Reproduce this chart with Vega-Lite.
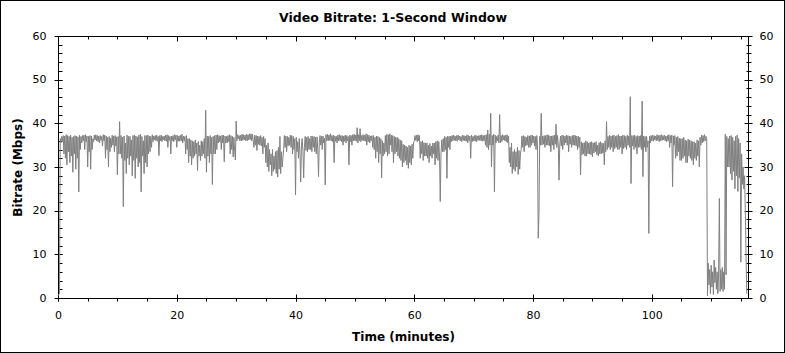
{
"$schema": "https://vega.github.io/schema/vega-lite/v6.json",
"width": 785, "height": 353,
"autosize": {"type": "none"},
"padding": 0,
"background": "white",
"config": {
  "view": {"stroke": "black", "strokeWidth": 2, "fill": "white"},
  "axis": {"grid": false, "domainColor": "black", "tickColor": "black", "labelColor": "black", "labelFont": "DejaVu Sans", "labelFontSize": 11, "titleFont": "DejaVu Sans", "titleFontSize": 12, "titleFontWeight": "bold", "titleColor": "black", "domainWidth": 1, "tickWidth": 1, "labelFlush": false, "labelOverlap": false, "labelBound": false}
},
"data": {"values": [
{"t":0,"v":0.5},{"t":0.125,"v":0.8},{"t":0.25,"v":1.0},{"t":0.375,"v":36.5},{"t":0.5,"v":35.5},{"t":0.625,"v":37.0},{"t":0.75,"v":36.0},{"t":0.875,"v":37.2},
{"t":1,"v":33.0},{"t":1.125,"v":37.1},{"t":1.25,"v":32.0},{"t":1.375,"v":37.4},{"t":1.5,"v":30.5},{"t":1.625,"v":37.2},{"t":1.75,"v":33.5},{"t":1.875,"v":37.0},
{"t":2,"v":31.0},{"t":2.125,"v":37.3},{"t":2.25,"v":32.5},{"t":2.375,"v":36.8},{"t":2.5,"v":28.8},{"t":2.625,"v":37.0},{"t":2.75,"v":33.0},{"t":2.875,"v":37.2},
{"t":3,"v":29.5},{"t":3.125,"v":37.1},{"t":3.25,"v":32.0},{"t":3.375,"v":36.9},{"t":3.5,"v":24.3},{"t":3.625,"v":37.3},{"t":3.75,"v":34.0},{"t":3.875,"v":37.0},
{"t":4,"v":35.5},{"t":4.125,"v":37.2},{"t":4.25,"v":36.0},{"t":4.375,"v":37.3},{"t":4.5,"v":34.0},{"t":4.625,"v":37.4},{"t":4.75,"v":35.8},{"t":4.875,"v":37.1},
{"t":5,"v":30.0},{"t":5.125,"v":37.0},{"t":5.25,"v":33.5},{"t":5.375,"v":37.2},{"t":5.5,"v":29.5},{"t":5.625,"v":37.1},{"t":5.75,"v":34.0},{"t":5.875,"v":36.5},
{"t":6,"v":35.8},{"t":6.125,"v":37.3},{"t":6.25,"v":36.2},{"t":6.375,"v":37.4},{"t":6.5,"v":36.0},{"t":6.625,"v":37.2},{"t":6.75,"v":35.8},{"t":6.875,"v":37.1},
{"t":7,"v":35.5},{"t":7.125,"v":37.2},{"t":7.25,"v":36.1},{"t":7.375,"v":37.0},{"t":7.5,"v":34.8},{"t":7.625,"v":37.4},{"t":7.75,"v":36.0},{"t":7.875,"v":37.3},
{"t":8,"v":32.0},{"t":8.125,"v":37.1},{"t":8.25,"v":34.0},{"t":8.375,"v":36.8},{"t":8.5,"v":30.0},{"t":8.625,"v":37.0},{"t":8.75,"v":33.5},{"t":8.875,"v":36.6},
{"t":9,"v":34.5},{"t":9.125,"v":37.3},{"t":9.25,"v":35.0},{"t":9.375,"v":37.1},{"t":9.5,"v":33.5},{"t":9.625,"v":37.2},{"t":9.75,"v":34.8},{"t":9.875,"v":36.9},
{"t":10,"v":28.2},{"t":10.125,"v":37.0},{"t":10.25,"v":33.0},{"t":10.375,"v":40.4},{"t":10.5,"v":33.0},{"t":10.625,"v":37.2},{"t":10.75,"v":32.0},{"t":10.875,"v":36.8},
{"t":11,"v":20.9},{"t":11.125,"v":37.1},{"t":11.25,"v":31.5},{"t":11.375,"v":35.5},{"t":11.5,"v":28.5},{"t":11.625,"v":37.3},{"t":11.75,"v":32.0},{"t":11.875,"v":37.0},
{"t":12,"v":30.5},{"t":12.125,"v":37.0},{"t":12.25,"v":32.5},{"t":12.375,"v":36.2},{"t":12.5,"v":28.0},{"t":12.625,"v":37.2},{"t":12.75,"v":31.5},{"t":12.875,"v":37.3},
{"t":13,"v":27.4},{"t":13.125,"v":37.1},{"t":13.25,"v":32.0},{"t":13.375,"v":36.9},{"t":13.5,"v":30.0},{"t":13.625,"v":37.3},{"t":13.75,"v":31.0},{"t":13.875,"v":37.5},
{"t":14,"v":24.3},{"t":14.125,"v":37.0},{"t":14.25,"v":32.5},{"t":14.375,"v":36.0},{"t":14.5,"v":28.5},{"t":14.625,"v":37.2},{"t":14.75,"v":31.0},{"t":14.875,"v":37.2},
{"t":15,"v":30.0},{"t":15.125,"v":37.3},{"t":15.25,"v":33.0},{"t":15.375,"v":37.1},{"t":15.5,"v":33.5},{"t":15.625,"v":37.0},{"t":15.75,"v":34.5},{"t":15.875,"v":37.4},
{"t":16,"v":35.8},{"t":16.125,"v":37.1},{"t":16.25,"v":36.2},{"t":16.375,"v":37.2},{"t":16.5,"v":36.0},{"t":16.625,"v":37.3},{"t":16.75,"v":35.9},{"t":16.875,"v":37.0},
{"t":17,"v":32.6},{"t":17.125,"v":37.2},{"t":17.25,"v":36.0},{"t":17.375,"v":37.3},{"t":17.5,"v":35.8},{"t":17.625,"v":37.0},{"t":17.75,"v":36.2},{"t":17.875,"v":37.1},
{"t":18,"v":36.0},{"t":18.125,"v":37.3},{"t":18.25,"v":35.9},{"t":18.375,"v":37.4},{"t":18.5,"v":34.5},{"t":18.625,"v":37.2},{"t":18.75,"v":36.1},{"t":18.875,"v":37.0},
{"t":19,"v":33.0},{"t":19.125,"v":37.1},{"t":19.25,"v":36.0},{"t":19.375,"v":37.2},{"t":19.5,"v":35.8},{"t":19.625,"v":37.4},{"t":19.75,"v":36.2},{"t":19.875,"v":37.3},
{"t":20,"v":34.5},{"t":20.125,"v":37.2},{"t":20.25,"v":35.9},{"t":20.375,"v":37.1},{"t":20.5,"v":35.9},{"t":20.625,"v":37.3},{"t":20.75,"v":36.0},{"t":20.875,"v":37.5},
{"t":21,"v":35.5},{"t":21.125,"v":37.1},{"t":21.25,"v":36.0},{"t":21.375,"v":37.0},{"t":21.5,"v":33.0},{"t":21.625,"v":37.2},{"t":21.75,"v":34.0},{"t":21.875,"v":36.5},
{"t":22,"v":31.0},{"t":22.125,"v":36.5},{"t":22.25,"v":32.5},{"t":22.375,"v":36.2},{"t":22.5,"v":30.5},{"t":22.625,"v":36.0},{"t":22.75,"v":32.0},{"t":22.875,"v":35.8},
{"t":23,"v":32.5},{"t":23.125,"v":36.2},{"t":23.25,"v":33.0},{"t":23.375,"v":35.5},{"t":23.5,"v":29.2},{"t":23.625,"v":35.8},{"t":23.75,"v":32.5},{"t":23.875,"v":35.0},
{"t":24,"v":31.5},{"t":24.125,"v":36.0},{"t":24.25,"v":32.5},{"t":24.375,"v":35.8},{"t":24.5,"v":33.0},{"t":24.625,"v":36.5},{"t":24.75,"v":32.0},{"t":24.875,"v":43.0},
{"t":25,"v":28.8},{"t":25.125,"v":37.1},{"t":25.25,"v":32.5},{"t":25.375,"v":37.0},{"t":25.5,"v":31.0},{"t":25.625,"v":37.2},{"t":25.75,"v":33.0},{"t":25.875,"v":36.8},
{"t":26,"v":26.0},{"t":26.125,"v":37.0},{"t":26.25,"v":33.0},{"t":26.375,"v":37.2},{"t":26.5,"v":33.0},{"t":26.625,"v":37.3},{"t":26.75,"v":34.0},{"t":26.875,"v":37.4},
{"t":27,"v":35.5},{"t":27.125,"v":37.2},{"t":27.25,"v":35.8},{"t":27.375,"v":37.1},{"t":27.5,"v":34.0},{"t":27.625,"v":37.3},{"t":27.75,"v":35.5},{"t":27.875,"v":37.3},
{"t":28,"v":31.2},{"t":28.125,"v":37.1},{"t":28.25,"v":35.5},{"t":28.375,"v":37.0},{"t":28.5,"v":35.5},{"t":28.625,"v":37.2},{"t":28.75,"v":35.8},{"t":28.875,"v":37.4},
{"t":29,"v":33.0},{"t":29.125,"v":37.2},{"t":29.25,"v":34.0},{"t":29.375,"v":37.0},{"t":29.5,"v":32.3},{"t":29.625,"v":36.8},{"t":29.75,"v":33.5},{"t":29.875,"v":31.6},
{"t":30,"v":40.5},{"t":30.125,"v":36.0},{"t":30.25,"v":37.4},{"t":30.375,"v":36.5},{"t":30.5,"v":37.2},{"t":30.625,"v":36.0},{"t":30.75,"v":37.3},{"t":30.875,"v":36.0},
{"t":31,"v":37.5},{"t":31.125,"v":36.1},{"t":31.25,"v":37.4},{"t":31.375,"v":36.2},{"t":31.5,"v":37.3},{"t":31.625,"v":36.0},{"t":31.75,"v":37.5},{"t":31.875,"v":36.0},
{"t":32,"v":37.4},{"t":32.125,"v":36.2},{"t":32.25,"v":37.6},{"t":32.375,"v":36.3},{"t":32.5,"v":37.6},{"t":32.625,"v":36.0},{"t":32.75,"v":37.5},{"t":32.875,"v":36.1},
{"t":33,"v":34.5},{"t":33.125,"v":37.3},{"t":33.25,"v":35.0},{"t":33.375,"v":37.2},{"t":33.5,"v":33.8},{"t":33.625,"v":37.1},{"t":33.75,"v":35.2},{"t":33.875,"v":37.0},
{"t":34,"v":35.0},{"t":34.125,"v":37.2},{"t":34.25,"v":34.8},{"t":34.375,"v":36.8},{"t":34.5,"v":33.0},{"t":34.625,"v":37.0},{"t":34.75,"v":34.5},{"t":34.875,"v":36.5},
{"t":35,"v":31.0},{"t":35.125,"v":35.0},{"t":35.25,"v":30.0},{"t":35.375,"v":35.5},{"t":35.5,"v":29.0},{"t":35.625,"v":34.0},{"t":35.75,"v":30.5},{"t":35.875,"v":33.0},
{"t":36,"v":28.0},{"t":36.125,"v":34.0},{"t":36.25,"v":29.0},{"t":36.375,"v":32.5},{"t":36.5,"v":29.5},{"t":36.625,"v":33.5},{"t":36.75,"v":28.5},{"t":36.875,"v":33.8},
{"t":37,"v":27.7},{"t":37.125,"v":34.5},{"t":37.25,"v":29.5},{"t":37.375,"v":37.0},{"t":37.5,"v":28.5},{"t":37.625,"v":33.5},{"t":37.75,"v":30.0},{"t":37.875,"v":32.0},
{"t":38,"v":34.0},{"t":38.125,"v":37.2},{"t":38.25,"v":34.5},{"t":38.375,"v":37.1},{"t":38.5,"v":33.5},{"t":38.625,"v":37.0},{"t":38.75,"v":34.8},{"t":38.875,"v":36.8},
{"t":39,"v":35.0},{"t":39.125,"v":37.3},{"t":39.25,"v":34.5},{"t":39.375,"v":37.2},{"t":39.5,"v":33.0},{"t":39.625,"v":37.0},{"t":39.75,"v":34.0},{"t":39.875,"v":36.5},
{"t":40,"v":23.6},{"t":40.125,"v":36.8},{"t":40.25,"v":33.5},{"t":40.375,"v":35.8},{"t":40.5,"v":32.0},{"t":40.625,"v":36.5},{"t":40.75,"v":33.0},{"t":40.875,"v":26.6},
{"t":41,"v":35.0},{"t":41.125,"v":36.5},{"t":41.25,"v":33.5},{"t":41.375,"v":27.5},{"t":41.5,"v":34.5},{"t":41.625,"v":37.0},{"t":41.75,"v":33.8},{"t":41.875,"v":36.8},
{"t":42,"v":33.5},{"t":42.125,"v":37.0},{"t":42.25,"v":34.0},{"t":42.375,"v":36.5},{"t":42.5,"v":34.0},{"t":42.625,"v":37.1},{"t":42.75,"v":33.5},{"t":42.875,"v":37.0},
{"t":43,"v":34.5},{"t":43.125,"v":37.0},{"t":43.25,"v":33.5},{"t":43.375,"v":36.8},{"t":43.5,"v":33.0},{"t":43.625,"v":36.9},{"t":43.75,"v":34.0},{"t":43.875,"v":27.8},
{"t":44,"v":35.5},{"t":44.125,"v":37.2},{"t":44.25,"v":35.0},{"t":44.375,"v":37.0},{"t":44.5,"v":34.0},{"t":44.625,"v":37.1},{"t":44.75,"v":35.5},{"t":44.875,"v":36.6},
{"t":45,"v":25.9},{"t":45.125,"v":37.4},{"t":45.25,"v":36.0},{"t":45.375,"v":37.5},{"t":45.5,"v":36.0},{"t":45.625,"v":37.3},{"t":45.75,"v":36.1},{"t":45.875,"v":37.6},
{"t":46,"v":36.0},{"t":46.125,"v":37.2},{"t":46.25,"v":35.8},{"t":46.375,"v":37.3},{"t":46.5,"v":31.0},{"t":46.625,"v":37.1},{"t":46.75,"v":35.9},{"t":46.875,"v":37.0},
{"t":47,"v":35.5},{"t":47.125,"v":37.3},{"t":47.25,"v":36.0},{"t":47.375,"v":37.4},{"t":47.5,"v":36.0},{"t":47.625,"v":37.2},{"t":47.75,"v":35.8},{"t":47.875,"v":37.2},
{"t":48,"v":35.0},{"t":48.125,"v":37.1},{"t":48.25,"v":35.9},{"t":48.375,"v":37.3},{"t":48.5,"v":35.5},{"t":48.625,"v":37.2},{"t":48.75,"v":36.0},{"t":48.875,"v":37.0},
{"t":49,"v":30.5},{"t":49.125,"v":37.3},{"t":49.25,"v":35.8},{"t":49.375,"v":37.2},{"t":49.5,"v":35.0},{"t":49.625,"v":37.4},{"t":49.75,"v":36.0},{"t":49.875,"v":37.5},
{"t":50,"v":36.0},{"t":50.125,"v":37.3},{"t":50.25,"v":35.9},{"t":50.375,"v":39.0},{"t":50.5,"v":35.5},{"t":50.625,"v":37.4},{"t":50.75,"v":36.0},{"t":50.875,"v":38.8},
{"t":51,"v":35.8},{"t":51.125,"v":37.2},{"t":51.25,"v":36.1},{"t":51.375,"v":37.4},{"t":51.5,"v":36.0},{"t":51.625,"v":37.3},{"t":51.75,"v":35.9},{"t":51.875,"v":37.6},
{"t":52,"v":35.0},{"t":52.125,"v":37.4},{"t":52.25,"v":35.8},{"t":52.375,"v":37.3},{"t":52.5,"v":35.5},{"t":52.625,"v":37.1},{"t":52.75,"v":36.0},{"t":52.875,"v":37.2},
{"t":53,"v":34.5},{"t":53.125,"v":37.2},{"t":53.25,"v":34.0},{"t":53.375,"v":36.8},{"t":53.5,"v":32.0},{"t":53.625,"v":37.1},{"t":53.75,"v":33.5},{"t":53.875,"v":37.0},
{"t":54,"v":31.0},{"t":54.125,"v":36.8},{"t":54.25,"v":33.0},{"t":54.375,"v":36.5},{"t":54.5,"v":27.5},{"t":54.625,"v":36.0},{"t":54.75,"v":32.5},{"t":54.875,"v":35.5},
{"t":55,"v":33.0},{"t":55.125,"v":37.2},{"t":55.25,"v":33.5},{"t":55.375,"v":37.5},{"t":55.5,"v":32.5},{"t":55.625,"v":37.4},{"t":55.75,"v":33.0},{"t":55.875,"v":37.6},
{"t":56,"v":35.0},{"t":56.125,"v":37.3},{"t":56.25,"v":33.5},{"t":56.375,"v":37.2},{"t":56.5,"v":31.0},{"t":56.625,"v":37.0},{"t":56.75,"v":33.0},{"t":56.875,"v":36.8},
{"t":57,"v":33.5},{"t":57.125,"v":36.8},{"t":57.25,"v":32.5},{"t":57.375,"v":36.5},{"t":57.5,"v":32.0},{"t":57.625,"v":36.2},{"t":57.75,"v":31.5},{"t":57.875,"v":36.0},
{"t":58,"v":30.0},{"t":58.125,"v":35.2},{"t":58.25,"v":31.0},{"t":58.375,"v":35.0},{"t":58.5,"v":31.5},{"t":58.625,"v":34.8},{"t":58.75,"v":30.5},{"t":58.875,"v":34.5},
{"t":59,"v":29.7},{"t":59.125,"v":35.0},{"t":59.25,"v":31.0},{"t":59.375,"v":34.8},{"t":59.5,"v":30.5},{"t":59.625,"v":35.2},{"t":59.75,"v":32.0},{"t":59.875,"v":35.5},
{"t":60,"v":36.0},{"t":60.125,"v":37.2},{"t":60.25,"v":36.1},{"t":60.375,"v":37.3},{"t":60.5,"v":35.8},{"t":60.625,"v":37.4},{"t":60.75,"v":36.0},{"t":60.875,"v":37.2},
{"t":61,"v":32.0},{"t":61.125,"v":35.8},{"t":61.25,"v":33.0},{"t":61.375,"v":36.0},{"t":61.5,"v":31.5},{"t":61.625,"v":35.6},{"t":61.75,"v":32.5},{"t":61.875,"v":35.5},
{"t":62,"v":32.5},{"t":62.125,"v":35.5},{"t":62.25,"v":32.0},{"t":62.375,"v":35.0},{"t":62.5,"v":31.0},{"t":62.625,"v":35.4},{"t":62.75,"v":32.5},{"t":62.875,"v":34.8},
{"t":63,"v":32.0},{"t":63.125,"v":35.5},{"t":63.25,"v":33.0},{"t":63.375,"v":35.5},{"t":63.5,"v":30.5},{"t":63.625,"v":35.8},{"t":63.75,"v":32.0},{"t":63.875,"v":36.0},
{"t":64,"v":31.5},{"t":64.125,"v":35.8},{"t":64.25,"v":32.5},{"t":64.375,"v":22.1},{"t":64.5,"v":33.0},{"t":64.625,"v":36.2},{"t":64.75,"v":33.5},{"t":64.875,"v":36.5},
{"t":65,"v":33.5},{"t":65.125,"v":37.0},{"t":65.25,"v":34.0},{"t":65.375,"v":36.8},{"t":65.5,"v":27.4},{"t":65.625,"v":37.1},{"t":65.75,"v":34.5},{"t":65.875,"v":37.0},
{"t":66,"v":34.0},{"t":66.125,"v":37.1},{"t":66.25,"v":35.8},{"t":66.375,"v":37.2},{"t":66.5,"v":36.0},{"t":66.625,"v":37.3},{"t":66.75,"v":36.1},{"t":66.875,"v":37.1},
{"t":67,"v":36.0},{"t":67.125,"v":37.2},{"t":67.25,"v":35.9},{"t":67.375,"v":37.3},{"t":67.5,"v":36.2},{"t":67.625,"v":37.1},{"t":67.75,"v":36.0},{"t":67.875,"v":37.0},
{"t":68,"v":35.8},{"t":68.125,"v":37.3},{"t":68.25,"v":36.1},{"t":68.375,"v":37.2},{"t":68.5,"v":36.0},{"t":68.625,"v":37.1},{"t":68.75,"v":35.9},{"t":68.875,"v":37.4},
{"t":69,"v":35.5},{"t":69.125,"v":37.2},{"t":69.25,"v":36.0},{"t":69.375,"v":37.1},{"t":69.5,"v":32.0},{"t":69.625,"v":37.3},{"t":69.75,"v":35.8},{"t":69.875,"v":37.0},
{"t":70,"v":36.0},{"t":70.125,"v":37.2},{"t":70.25,"v":35.9},{"t":70.375,"v":37.3},{"t":70.5,"v":35.8},{"t":70.625,"v":37.1},{"t":70.75,"v":36.1},{"t":70.875,"v":37.2},
{"t":71,"v":36.1},{"t":71.125,"v":37.3},{"t":71.25,"v":36.0},{"t":71.375,"v":37.4},{"t":71.5,"v":35.9},{"t":71.625,"v":37.2},{"t":71.75,"v":36.0},{"t":71.875,"v":37.3},
{"t":72,"v":35.0},{"t":72.125,"v":37.4},{"t":72.25,"v":34.5},{"t":72.375,"v":38.5},{"t":72.5,"v":34.0},{"t":72.625,"v":37.5},{"t":72.75,"v":35.0},{"t":72.875,"v":42.3},
{"t":73,"v":30.0},{"t":73.125,"v":37.2},{"t":73.25,"v":35.0},{"t":73.375,"v":37.5},{"t":73.5,"v":24.3},{"t":73.625,"v":37.3},{"t":73.75,"v":35.5},{"t":73.875,"v":37.0},
{"t":74,"v":36.0},{"t":74.125,"v":37.3},{"t":74.25,"v":35.5},{"t":74.375,"v":42.0},{"t":74.5,"v":35.5},{"t":74.625,"v":37.2},{"t":74.75,"v":35.8},{"t":74.875,"v":37.4},
{"t":75,"v":36.2},{"t":75.125,"v":37.2},{"t":75.25,"v":36.0},{"t":75.375,"v":37.3},{"t":75.5,"v":35.8},{"t":75.625,"v":37.4},{"t":75.75,"v":35.5},{"t":75.875,"v":37.1},
{"t":76,"v":31.0},{"t":76.125,"v":34.5},{"t":76.25,"v":30.0},{"t":76.375,"v":35.5},{"t":76.5,"v":28.5},{"t":76.625,"v":33.5},{"t":76.75,"v":29.5},{"t":76.875,"v":34.0},
{"t":77,"v":29.0},{"t":77.125,"v":33.5},{"t":77.25,"v":30.0},{"t":77.375,"v":34.5},{"t":77.5,"v":28.3},{"t":77.625,"v":33.8},{"t":77.75,"v":29.5},{"t":77.875,"v":33.0},
{"t":78,"v":34.0},{"t":78.125,"v":37.1},{"t":78.25,"v":34.5},{"t":78.375,"v":37.2},{"t":78.5,"v":33.5},{"t":78.625,"v":37.0},{"t":78.75,"v":34.8},{"t":78.875,"v":36.8},
{"t":79,"v":35.0},{"t":79.125,"v":37.2},{"t":79.25,"v":34.5},{"t":79.375,"v":37.1},{"t":79.5,"v":34.5},{"t":79.625,"v":37.3},{"t":79.75,"v":35.0},{"t":79.875,"v":37.3},
{"t":80,"v":35.5},{"t":80.125,"v":37.1},{"t":80.25,"v":34.8},{"t":80.375,"v":37.0},{"t":80.5,"v":34.0},{"t":80.625,"v":37.2},{"t":80.75,"v":35.0},{"t":80.875,"v":13.7},
{"t":81,"v":19.4},{"t":81.125,"v":37.0},{"t":81.25,"v":35.0},{"t":81.375,"v":42.3},{"t":81.5,"v":35.0},{"t":81.625,"v":37.1},{"t":81.75,"v":35.2},{"t":81.875,"v":37.2},
{"t":82,"v":34.5},{"t":82.125,"v":37.2},{"t":82.25,"v":35.0},{"t":82.375,"v":37.4},{"t":82.5,"v":35.0},{"t":82.625,"v":37.3},{"t":82.75,"v":34.8},{"t":82.875,"v":37.1},
{"t":83,"v":33.5},{"t":83.125,"v":37.1},{"t":83.25,"v":35.0},{"t":83.375,"v":37.2},{"t":83.5,"v":34.0},{"t":83.625,"v":37.3},{"t":83.75,"v":35.2},{"t":83.875,"v":39.8},
{"t":84,"v":34.5},{"t":84.125,"v":37.2},{"t":84.25,"v":35.0},{"t":84.375,"v":27.0},{"t":84.5,"v":35.0},{"t":84.625,"v":37.1},{"t":84.75,"v":34.8},{"t":84.875,"v":37.3},
{"t":85,"v":34.0},{"t":85.125,"v":37.2},{"t":85.25,"v":35.0},{"t":85.375,"v":37.1},{"t":85.5,"v":35.5},{"t":85.625,"v":37.3},{"t":85.75,"v":35.0},{"t":85.875,"v":37.2},
{"t":86,"v":33.5},{"t":86.125,"v":37.1},{"t":86.25,"v":35.2},{"t":86.375,"v":37.0},{"t":86.5,"v":34.5},{"t":86.625,"v":37.2},{"t":86.75,"v":35.0},{"t":86.875,"v":37.3},
{"t":87,"v":35.0},{"t":87.125,"v":37.2},{"t":87.25,"v":34.8},{"t":87.375,"v":37.1},{"t":87.5,"v":34.0},{"t":87.625,"v":37.0},{"t":87.75,"v":34.5},{"t":87.875,"v":36.8},
{"t":88,"v":28.2},{"t":88.125,"v":35.8},{"t":88.25,"v":32.8},{"t":88.375,"v":35.5},{"t":88.5,"v":33.0},{"t":88.625,"v":35.6},{"t":88.75,"v":32.5},{"t":88.875,"v":36.0},
{"t":89,"v":32.5},{"t":89.125,"v":35.8},{"t":89.25,"v":33.0},{"t":89.375,"v":35.5},{"t":89.5,"v":33.0},{"t":89.625,"v":35.7},{"t":89.75,"v":32.8},{"t":89.875,"v":35.8},
{"t":90,"v":32.3},{"t":90.125,"v":35.5},{"t":90.25,"v":33.2},{"t":90.375,"v":35.6},{"t":90.5,"v":33.5},{"t":90.625,"v":35.8},{"t":90.75,"v":32.8},{"t":90.875,"v":35.0},
{"t":91,"v":32.5},{"t":91.125,"v":35.6},{"t":91.25,"v":33.0},{"t":91.375,"v":35.8},{"t":91.5,"v":33.0},{"t":91.625,"v":35.5},{"t":91.75,"v":33.2},{"t":91.875,"v":35.4},
{"t":92,"v":30.5},{"t":92.125,"v":36.0},{"t":92.25,"v":33.5},{"t":92.375,"v":40.4},{"t":92.5,"v":34.0},{"t":92.625,"v":37.0},{"t":92.75,"v":34.5},{"t":92.875,"v":37.3},
{"t":93,"v":34.0},{"t":93.125,"v":37.1},{"t":93.25,"v":34.5},{"t":93.375,"v":37.2},{"t":93.5,"v":33.5},{"t":93.625,"v":37.3},{"t":93.75,"v":34.2},{"t":93.875,"v":37.0},
{"t":94,"v":34.5},{"t":94.125,"v":37.2},{"t":94.25,"v":34.0},{"t":94.375,"v":37.4},{"t":94.5,"v":34.0},{"t":94.625,"v":37.1},{"t":94.75,"v":34.5},{"t":94.875,"v":37.1},
{"t":95,"v":33.0},{"t":95.125,"v":37.3},{"t":95.25,"v":34.2},{"t":95.375,"v":37.2},{"t":95.5,"v":34.5},{"t":95.625,"v":37.0},{"t":95.75,"v":34.0},{"t":95.875,"v":37.3},
{"t":96,"v":35.0},{"t":96.125,"v":37.1},{"t":96.25,"v":34.5},{"t":96.375,"v":46.1},{"t":96.5,"v":26.2},{"t":96.625,"v":37.2},{"t":96.75,"v":34.8},{"t":96.875,"v":37.2},
{"t":97,"v":34.0},{"t":97.125,"v":37.3},{"t":97.25,"v":34.5},{"t":97.375,"v":37.0},{"t":97.5,"v":33.0},{"t":97.625,"v":37.2},{"t":97.75,"v":34.5},{"t":97.875,"v":37.1},
{"t":98,"v":34.5},{"t":98.125,"v":37.2},{"t":98.25,"v":34.0},{"t":98.375,"v":45.1},{"t":98.5,"v":27.8},{"t":98.625,"v":37.1},{"t":98.75,"v":34.5},{"t":98.875,"v":37.0},
{"t":99,"v":33.5},{"t":99.125,"v":37.0},{"t":99.25,"v":34.5},{"t":99.375,"v":36.0},{"t":99.5,"v":14.8},{"t":99.625,"v":37.1},{"t":99.75,"v":35.5},{"t":99.875,"v":37.2},
{"t":100,"v":36.0},{"t":100.125,"v":37.3},{"t":100.25,"v":35.9},{"t":100.375,"v":37.2},{"t":100.5,"v":36.2},{"t":100.625,"v":37.1},{"t":100.75,"v":36.0},{"t":100.875,"v":37.4},
{"t":101,"v":36.1},{"t":101.125,"v":37.2},{"t":101.25,"v":35.8},{"t":101.375,"v":37.3},{"t":101.5,"v":36.0},{"t":101.625,"v":37.4},{"t":101.75,"v":36.1},{"t":101.875,"v":37.2},
{"t":102,"v":36.2},{"t":102.125,"v":37.3},{"t":102.25,"v":36.0},{"t":102.375,"v":37.1},{"t":102.5,"v":35.8},{"t":102.625,"v":37.2},{"t":102.75,"v":36.0},{"t":102.875,"v":37.4},
{"t":103,"v":34.5},{"t":103.125,"v":37.2},{"t":103.25,"v":35.5},{"t":103.375,"v":37.3},{"t":103.5,"v":25.5},{"t":103.625,"v":37.1},{"t":103.75,"v":35.0},{"t":103.875,"v":37.2},
{"t":104,"v":32.0},{"t":104.125,"v":36.8},{"t":104.25,"v":32.5},{"t":104.375,"v":37.0},{"t":104.5,"v":33.5},{"t":104.625,"v":36.6},{"t":104.75,"v":31.5},{"t":104.875,"v":36.5},
{"t":105,"v":31.5},{"t":105.125,"v":36.5},{"t":105.25,"v":32.0},{"t":105.375,"v":36.8},{"t":105.5,"v":32.5},{"t":105.625,"v":36.2},{"t":105.75,"v":31.0},{"t":105.875,"v":36.0},
{"t":106,"v":31.0},{"t":106.125,"v":36.4},{"t":106.25,"v":32.5},{"t":106.375,"v":36.2},{"t":106.5,"v":32.0},{"t":106.625,"v":36.0},{"t":106.75,"v":31.5},{"t":106.875,"v":35.8},
{"t":107,"v":30.5},{"t":107.125,"v":35.8},{"t":107.25,"v":32.0},{"t":107.375,"v":35.5},{"t":107.5,"v":31.5},{"t":107.625,"v":36.2},{"t":107.75,"v":32.5},{"t":107.875,"v":36.0},
{"t":108,"v":30.0},{"t":108.125,"v":36.8},{"t":108.25,"v":35.0},{"t":108.375,"v":37.3},{"t":108.5,"v":35.5},{"t":108.625,"v":37.2},{"t":108.75,"v":35.8},{"t":108.875,"v":37.4},
{"t":109,"v":36.0},{"t":109.125,"v":37.0},{"t":109.25,"v":36.5},{"t":109.375,"v":0.5},{"t":109.5,"v":8.0},{"t":109.625,"v":3.0},{"t":109.75,"v":6.5},{"t":109.875,"v":1.0},
{"t":110,"v":7.5},{"t":110.125,"v":2.5},{"t":110.25,"v":6.0},{"t":110.375,"v":0.8},{"t":110.5,"v":8.7},{"t":110.625,"v":3.5},{"t":110.75,"v":7.0},{"t":110.875,"v":2.0},
{"t":111,"v":6.0},{"t":111.125,"v":1.0},{"t":111.25,"v":5.5},{"t":111.375,"v":22.8},{"t":111.5,"v":1.5},{"t":111.625,"v":6.5},{"t":111.75,"v":2.0},{"t":111.875,"v":7.0},
{"t":112,"v":1.5},{"t":112.125,"v":6.0},{"t":112.25,"v":2.0},{"t":112.375,"v":37.5},{"t":112.5,"v":5.3},{"t":112.625,"v":37.0},{"t":112.75,"v":30.0},{"t":112.875,"v":36.5},
{"t":113,"v":30.0},{"t":113.125,"v":37.1},{"t":113.25,"v":28.5},{"t":113.375,"v":37.2},{"t":113.5,"v":27.0},{"t":113.625,"v":36.8},{"t":113.75,"v":29.0},{"t":113.875,"v":36.0},
{"t":114,"v":25.0},{"t":114.125,"v":37.0},{"t":114.25,"v":28.0},{"t":114.375,"v":37.3},{"t":114.5,"v":24.4},{"t":114.625,"v":36.5},{"t":114.75,"v":27.5},{"t":114.875,"v":35.5},
{"t":115,"v":8.2},{"t":115.125,"v":33.0},{"t":115.25,"v":26.0},{"t":115.375,"v":30.0},{"t":115.5,"v":25.0},{"t":115.625,"v":28.0},{"t":115.75,"v":20.0},{"t":115.875,"v":9.0},
{"t":116,"v":1.0}
]},
"resolve": {"axis": {"x": "independent", "y": "independent"}},
"layer": [
  {
    "mark": {"type": "line", "color": "#808080", "strokeWidth": 1},
    "encoding": {
      "x": {"field": "t", "type": "quantitative",
        "scale": {"domain": [0, 116.2], "range": [58, 748], "nice": false, "zero": false},
        "axis": {"orient": "bottom", "offset": -55, "values": [0, 20, 40, 60, 80, 100], "ticks": false, "domain": true, "labelPadding": 11, "title": "Time (minutes)", "titleY": 38, "titleBaseline": "middle", "titleAlign": "center"}},
      "y": {"field": "v", "type": "quantitative",
        "scale": {"domain": [0, 60], "range": [298, 36], "nice": false, "zero": false},
        "axis": {"orient": "left", "offset": -58, "values": [0, 10, 20, 30, 40, 50, 60], "ticks": false, "domain": true, "labelPadding": 12, "title": "Bitrate (Mbps)", "titleX": -41, "titleAngle": 270, "titleBaseline": "middle", "titleAlign": "center"}}
    }
  },
  {
    "transform": [{"filter": "datum.t == 0"}],
    "mark": {"type": "point", "opacity": 0, "size": 0},
    "encoding": {
      "x": {"field": "t", "type": "quantitative",
        "scale": {"domain": [0, 116.2], "range": [58, 748], "nice": false, "zero": false},
        "axis": {"orient": "top", "offset": -36, "values": [0, 20, 40, 60, 80, 100], "ticks": false, "labels": false, "domain": true, "title": "Video Bitrate: 1-Second Window", "titleX": 392.5, "titleY": -19, "titleBaseline": "middle", "titleAlign": "center", "titleAngle": 0, "titleFontSize": 12.5}},
      "y": {"field": "v", "type": "quantitative",
        "scale": {"domain": [0, 60], "range": [298, 36], "nice": false, "zero": false},
        "axis": {"orient": "right", "offset": -37, "values": [0, 10, 20, 30, 40, 50, 60], "ticks": false, "domain": true, "labelPadding": 11, "title": null}}
    }
  },
  {
    "transform": [{"filter": "datum.t == 0"}],
    "mark": {"type": "point", "opacity": 0, "size": 0},
    "encoding": {
      "x": {"field": "t", "type": "quantitative",
        "scale": {"domain": [0, 116.2], "range": [58, 748], "nice": false, "zero": false},
        "axis": {"orient": "bottom", "offset": -59, "values": [0, 20, 40, 60, 80, 100], "ticks": true, "tickSize": 7, "labels": false, "domain": false, "title": null}},
      "y": {"field": "v", "type": "quantitative",
        "scale": {"domain": [0, 60], "range": [298, 36], "nice": false, "zero": false},
        "axis": {"orient": "left", "offset": -62, "values": [0, 10, 20, 30, 40, 50, 60], "ticks": true, "tickSize": 8, "labels": false, "domain": false, "title": null}}
    }
  },
  {
    "transform": [{"filter": "datum.t == 0"}],
    "mark": {"type": "point", "opacity": 0, "size": 0},
    "encoding": {
      "x": {"field": "t", "type": "quantitative",
        "scale": {"domain": [0, 116.2], "range": [58, 748], "nice": false, "zero": false},
        "axis": {"orient": "bottom", "offset": -55, "values": [0, 5, 10, 15, 20, 25, 30, 35, 40, 45, 50, 55, 60, 65, 70, 75, 80, 85, 90, 95, 100, 105, 110, 115], "ticks": true, "tickSize": 3, "labels": false, "domain": false, "title": null}},
      "y": {"field": "v", "type": "quantitative",
        "scale": {"domain": [0, 60], "range": [298, 36], "nice": false, "zero": false},
        "axis": {"orient": "left", "offset": -62, "values": [0, 2, 4, 6, 8, 10, 12, 14, 16, 18, 20, 22, 24, 26, 28, 30, 32, 34, 36, 38, 40, 42, 44, 46, 48, 50, 52, 54, 56, 58, 60], "ticks": true, "tickSize": 4, "labels": false, "domain": false, "title": null}}
    }
  },
  {
    "transform": [{"filter": "datum.t == 0"}],
    "mark": {"type": "point", "opacity": 0, "size": 0},
    "encoding": {
      "x": {"field": "t", "type": "quantitative",
        "scale": {"domain": [0, 116.2], "range": [58, 748], "nice": false, "zero": false},
        "axis": {"orient": "top", "offset": -41, "values": [0, 20, 40, 60, 80, 100], "ticks": true, "tickSize": 5, "labels": false, "domain": false, "title": null}},
      "y": {"field": "v", "type": "quantitative",
        "scale": {"domain": [0, 60], "range": [298, 36], "nice": false, "zero": false},
        "axis": {"orient": "right", "offset": -41, "values": [0, 10, 20, 30, 40, 50, 60], "ticks": true, "tickSize": 8, "labels": false, "domain": false, "title": null}}
    }
  },
  {
    "transform": [{"filter": "datum.t == 0"}],
    "mark": {"type": "point", "opacity": 0, "size": 0},
    "encoding": {
      "x": {"field": "t", "type": "quantitative",
        "scale": {"domain": [0, 116.2], "range": [58, 748], "nice": false, "zero": false},
        "axis": {"orient": "top", "offset": -39, "values": [0, 5, 10, 15, 20, 25, 30, 35, 40, 45, 50, 55, 60, 65, 70, 75, 80, 85, 90, 95, 100, 105, 110, 115], "ticks": true, "tickSize": 3, "labels": false, "domain": false, "title": null}},
      "y": {"field": "v", "type": "quantitative",
        "scale": {"domain": [0, 60], "range": [298, 36], "nice": false, "zero": false},
        "axis": {"orient": "right", "offset": -39, "values": [0, 2, 4, 6, 8, 10, 12, 14, 16, 18, 20, 22, 24, 26, 28, 30, 32, 34, 36, 38, 40, 42, 44, 46, 48, 50, 52, 54, 56, 58, 60], "ticks": true, "tickSize": 5, "labels": false, "domain": false, "title": null}}
    }
  }
]
}
